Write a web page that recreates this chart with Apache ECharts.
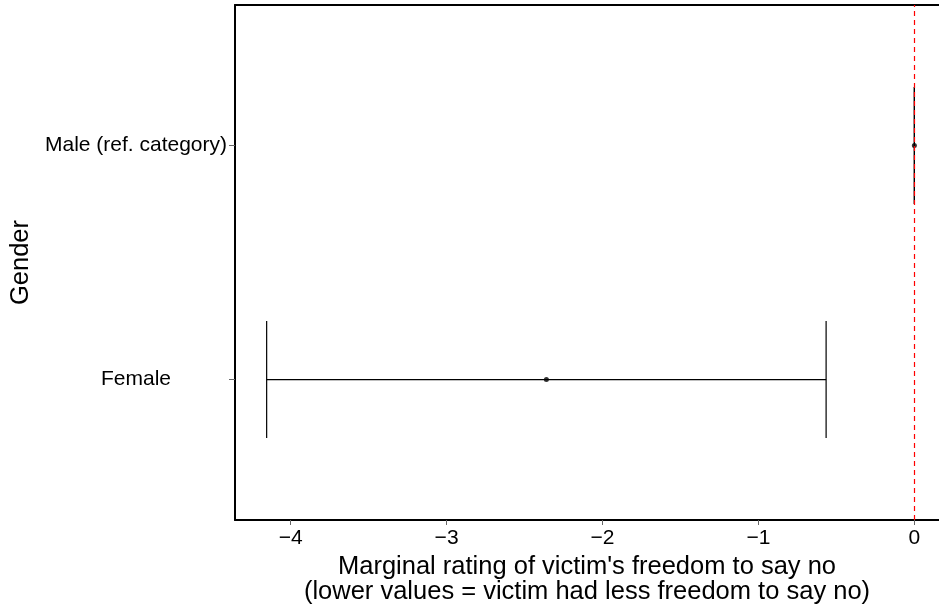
<!DOCTYPE html>
<html>
<head>
<meta charset="utf-8">
<script src="https://cdn.jsdelivr.net/npm/echarts@6/dist/echarts.min.js"></script>
<style>
  html, body { margin: 0; padding: 0; background: #fff; }
  #chart { width: 939px; height: 612px; }
</style>
</head>
<body>
<div id="chart"></div>
<script>
// Marginal effects of respondent gender, with 95% confidence intervals
const categories = ['Female', 'Male (ref. category)'];
const categoryPos = [1, 2];
const estimates = [-2.36, 0];
const lower = [-4.154, 0];
const upper = [-0.566, 0];
const xTicks = [-4, -3, -2, -1, 0];

const FONT = 'Liberation Sans, Arial, sans-serif';
const CAP = 0.25;

const fmtX = v => (v < 0 ? '\u2212' + Math.abs(v) : String(v));

const intervalData = categoryPos.map((p, i) => [lower[i], upper[i], p]);
const pointData = categoryPos.map((p, i) => [estimates[i], p]);

const chart = echarts.init(document.getElementById('chart'), null, { renderer: 'canvas' });

chart.setOption({
  animation: false,
  backgroundColor: '#fff',
  grid: { left: 235, right: 0, top: 5, bottom: 92 },
  xAxis: [
    {
      type: 'value',
      min: -4.357,
      max: 0.158,
      position: 'bottom',
      axisLine: { show: true, onZero: false, lineStyle: { color: '#000', width: 2 } },
      axisTick: { show: true, length: 5, customValues: xTicks, lineStyle: { color: '#666', width: 1 } },
      axisLabel: {
        customValues: xTicks, formatter: fmtX, margin: 8,
        color: '#000', fontSize: 21, fontFamily: FONT
      },
      splitLine: { show: false },
      name: "Marginal rating of victim's freedom to say no\n(lower values = victim had less freedom to say no)",
      nameLocation: 'middle',
      nameGap: 32,
      nameTextStyle: { color: '#000', fontSize: 25.5, fontFamily: FONT, lineHeight: 25 }
    },
    {
      type: 'value',
      min: -4.357,
      max: 0.158,
      position: 'top',
      axisLine: { show: true, onZero: false, lineStyle: { color: '#000', width: 2 } },
      axisTick: { show: false },
      axisLabel: { show: false },
      splitLine: { show: false }
    }
  ],
  yAxis: {
    type: 'value',
    min: 0.4,
    max: 2.6,
    axisLine: { show: true, onZero: false, lineStyle: { color: '#000', width: 2 } },
    axisTick: { show: true, length: 6, customValues: categoryPos, lineStyle: { color: '#666', width: 1 } },
    axisLabel: {
      customValues: categoryPos,
      formatter: v => categories[categoryPos.indexOf(v)] || '',
      align: 'center',
      margin: 99,
      color: '#000', fontSize: 21, fontFamily: FONT
    },
    splitLine: { show: false },
    name: 'Gender',
    nameLocation: 'middle',
    nameGap: 200,
    nameTextStyle: { color: '#000', fontSize: 25.5, fontFamily: FONT }
  },
  series: [
    {
      type: 'custom',
      z: 2,
      data: intervalData,
      encode: { x: [0, 1], y: 2 },
      renderItem: (params, api) => {
        const lo = api.value(0), hi = api.value(1), y = api.value(2);
        const a = api.coord([lo, y]);
        const b = api.coord([hi, y]);
        const aTop = api.coord([lo, y + CAP]), aBot = api.coord([lo, y - CAP]);
        const bTop = api.coord([hi, y + CAP]), bBot = api.coord([hi, y - CAP]);
        const style = { stroke: '#000', lineWidth: 1.2 };
        return {
          type: 'group',
          children: [
            { type: 'line', shape: { x1: a[0], y1: a[1], x2: b[0], y2: b[1] }, style },
            { type: 'line', shape: { x1: aTop[0], y1: aTop[1], x2: aBot[0], y2: aBot[1] }, style },
            { type: 'line', shape: { x1: bTop[0], y1: bTop[1], x2: bBot[0], y2: bBot[1] }, style }
          ]
        };
      }
    },
    {
      type: 'line',
      z: 3,
      data: [],
      markLine: {
        silent: true,
        symbol: 'none',
        label: { show: false },
        lineStyle: { color: '#ff0000', type: [5, 4], width: 1.2 },
        data: [{ xAxis: 0 }]
      }
    },
    {
      type: 'scatter',
      z: 4,
      data: pointData,
      symbol: 'circle',
      symbolSize: 5,
      itemStyle: { color: '#000' }
    }
  ]
});
</script>
</body>
</html>
